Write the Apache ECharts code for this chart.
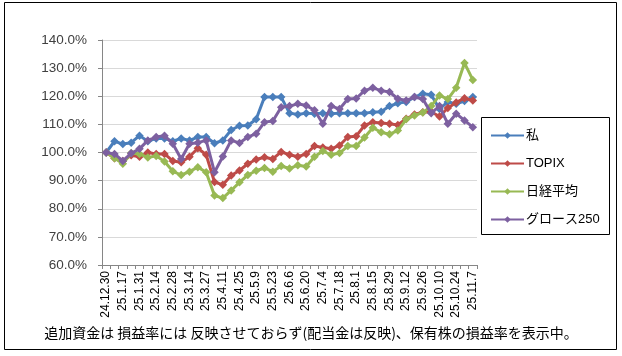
<!DOCTYPE html>
<html><head><meta charset="utf-8">
<script src="https://cdn.jsdelivr.net/npm/echarts@6/dist/echarts.min.js"></script>
<style>html,body{margin:0;padding:0;background:#fff;}#c{width:622px;height:356px;}</style>
</head><body><div id="c"></div>
<script>
var categories = ['24.12.30','25.1.10','25.1.17','25.1.24','25.1.31','25.2.7','25.2.14','25.2.21','25.2.28','25.3.7','25.3.14','25.3.21','25.3.27','25.4.4','25.4.11','25.4.18','25.4.25','25.5.2','25.5.9','25.5.16','25.5.23','25.5.30','25.6.6','25.6.13','25.6.20','25.6.27','25.7.4','25.7.11','25.7.18','25.7.25','25.8.1','25.8.8','25.8.15','25.8.22','25.8.29','25.9.5','25.9.12','25.9.19','25.9.26','25.10.3','25.10.10','25.10.17','25.10.24','25.10.31','25.11.7'];
var seriesNames = ['私','TOPIX','日経平均','グロース250'];
var watashi = [100,104,103,103.5,106,104,105,105,104,105,104.3,105.5,105.5,103.3,104.3,108,109.5,109.6,111.8,119.7,119.7,119.7,114,113.5,114,113.8,114,113.8,114,114,114,114,114.3,114.5,116.5,117.5,118,119.7,120.9,120.5,115.5,118,117.3,118.3,119.7];
var topix = [100,98,97,99,98.5,100,99.5,99.5,97,96.5,98.5,101.5,99.2,89.5,88.5,91.8,93.6,96,97.5,98.3,97.7,100.2,99.2,98.5,99.5,102.3,101.8,101.3,102.5,105.5,105.8,109.6,110.8,110.5,110.2,109.8,112,113.5,114.3,114.5,112.8,115.8,117.8,119.3,118.5];
var nikkei = [100,98,96,99.8,99.5,98.2,98.8,96.8,93.3,92,93.2,94.8,93,84.7,83.8,86.5,89.4,92,93.5,94.5,93.2,95.2,94.3,95.5,95,98.5,100.5,99.2,99.8,102.3,102.3,105.3,108.8,107.2,106.5,107.8,111.8,113.2,114.2,116.5,120.3,119,123,131.8,125.8];
var growth = [100,99.5,97,99.7,101.3,104.3,105.5,106,103.1,97.7,103.1,103.5,104.3,93,98.6,104.3,103.4,105.5,106.7,110.8,111.2,116.1,116.5,117.3,116.7,115,110.2,116.5,115.5,119,119.2,122,123,122,121.5,119.1,118.5,119.7,119,114,116.5,110.2,113.8,111.4,109];
var yTicks = {min:60, max:140, interval:10};
var footnote = '追加資金は 損益率には 反映させておらず(配当金は反映)、保有株の損益率を表示中。';

var colors = ['#4A7EBB','#BE4B48','#98B954','#7D60A0'];
var values = [watashi, topix, nikkei, growth];
var chart = echarts.init(document.getElementById('c'), null, {renderer:'canvas'});
var font = '"Liberation Sans", "Noto Sans CJK JP", sans-serif';
chart.setOption({
  animation:false,
  color: colors,
  textStyle:{fontFamily:font},
  grid:{left:102, right:145, top:40, bottom:91, containLabel:false},
  legend:{
    orient:'vertical', left:485, top:124, itemWidth:33, itemHeight:8, itemGap:15,
    textStyle:{fontSize:13, color:'#000', fontFamily:font, padding:[0,0,0,-3]},
    data: seriesNames
  },
  xAxis:{
    type:'category', data:categories, boundaryGap:true,
    axisLine:{lineStyle:{color:'#868686'}},
    axisTick:{show:true, interval:0, length:4, lineStyle:{color:'#868686'}},
    axisLabel:{rotate:90, interval:1, fontSize:12, color:'#000', margin:6, fontFamily:font}
  },
  yAxis:{
    type:'value', min:yTicks.min, max:yTicks.max, interval:yTicks.interval,
    axisLine:{show:true, lineStyle:{color:'#868686'}},
    axisTick:{show:true, length:4, lineStyle:{color:'#868686'}},
    splitLine:{lineStyle:{color:'#D9D9D9'}},
    axisLabel:{fontSize:13.5, color:'#404040', margin:15, fontFamily:font, formatter:function(v){return v.toFixed(1)+'%';}}
  },
  graphic:[
    {type:'rect', shape:{x:4.5, y:2.5, width:612, height:347}, style:{fill:null, stroke:'#000', lineWidth:1}, silent:true},
    {type:'rect', shape:{x:481.5, y:117.5, width:128, height:117}, style:{fill:null, stroke:'#000', lineWidth:1}, silent:true, z:10},
    {type:'text', left:'center', top:326, style:{text:footnote, font:'14px "Noto Sans CJK JP", sans-serif', fill:'#000'}}
  ],
  series: seriesNames.map(function(n,i){
    return {name:n, type:'line', data:values[i], symbol:'diamond', symbolSize:8.5, showAllSymbol:true,
      lineStyle:{width:3, color:colors[i]}, itemStyle:{color:colors[i]}, z:2+i};
  })
});
</script></body></html>
